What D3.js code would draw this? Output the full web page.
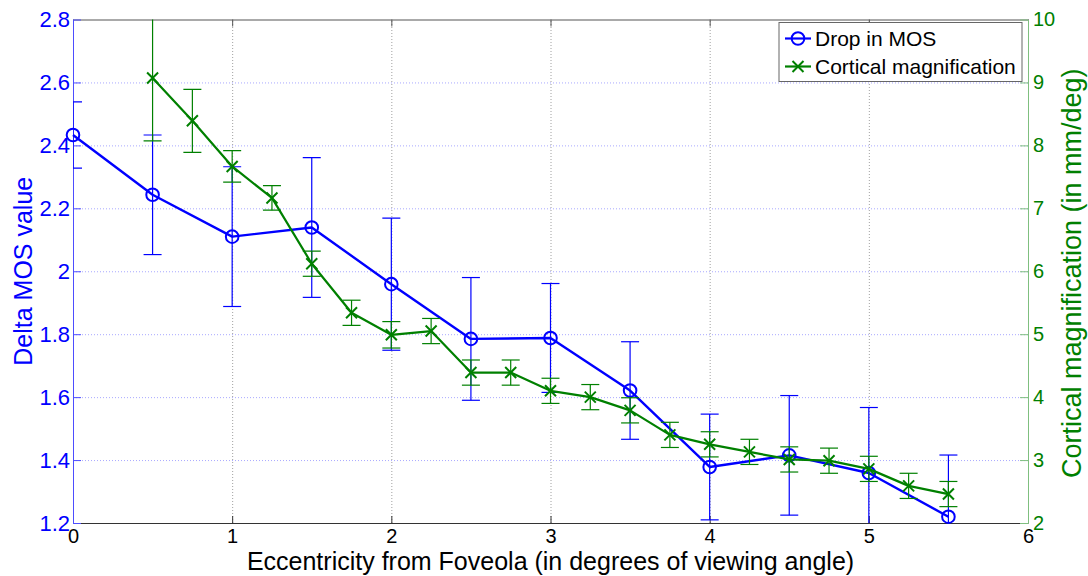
<!DOCTYPE html>
<html>
<head>
<meta charset="utf-8">
<script src="https://cdn.jsdelivr.net/npm/d3@7"></script>
<style>
  html, body { margin: 0; padding: 0; background: #fff; }
  svg { display: block; font-family: "Liberation Sans", Arial, sans-serif; }
</style>
</head>
<body>
<svg id="chart" width="1088" height="576"></svg>
<script>
// ---- data ----
const mosX = [0, 0.5, 1, 1.5, 2, 2.5, 3, 3.5, 4, 4.5, 5, 5.5];
const mosDrop = [2.433, 2.243, 2.110, 2.139, 1.959, 1.785, 1.788, 1.621, 1.378, 1.415, 1.359, 1.220];
const mosErr = [0.105, 0.19, 0.222, 0.222, 0.21, 0.195, 0.173, 0.155, 0.168, 0.19, 0.208, 0.196];

const cortX = [0.5, 0.75, 1, 1.25, 1.5, 1.75, 2, 2.25, 2.5, 2.75, 3, 3.25, 3.5, 3.75, 4, 4.25, 4.5, 4.75, 5, 5.25, 5.5];
const cortMag = [9.07, 8.39, 7.665, 7.165, 6.12, 5.34, 4.99, 5.05, 4.39, 4.39, 4.10, 4.00, 3.79, 3.40, 3.25, 3.13, 3.01, 2.99, 2.86, 2.59, 2.46];
const cortErr = [1.0, 0.5, 0.25, 0.195, 0.2, 0.2, 0.21, 0.2, 0.2, 0.2, 0.2, 0.2, 0.2, 0.2, 0.2, 0.2, 0.2, 0.2, 0.2, 0.2, 0.2];

const xTicks = [0, 1, 2, 3, 4, 5, 6];
const yLeftTicks = [1.2, 1.4, 1.6, 1.8, 2, 2.2, 2.4, 2.6, 2.8];
const yRightTicks = [2, 3, 4, 5, 6, 7, 8, 9, 10];

const seriesNames = ["Drop in MOS", "Cortical magnification"];
const xLabel = "Eccentricity from Foveola (in degrees of viewing angle)";
const yLeftLabel = "Delta MOS value";
const yRightLabel = "Cortical magnification (in mm/deg)";

// ---- layout ----
const W = 1088, H = 576;
const m = { left: 73, right: 60, top: 19.5, bottom: 53 };
const pw = W - m.left - m.right, ph = H - m.top - m.bottom;
const BLUE = "#0000ff", GREEN = "#008000";

const svg = d3.select("#chart");
const g = svg.append("g").attr("transform", `translate(${m.left},${m.top})`);

const x = d3.scaleLinear().domain([0, 6]).range([0, pw]);
const yL = d3.scaleLinear().domain([1.2, 2.8]).range([ph, 0]);
const yR = d3.scaleLinear().domain([2, 10]).range([ph, 0]);

svg.append("defs").append("clipPath").attr("id", "clip")
  .append("rect").attr("x", 0).attr("y", 0).attr("width", pw).attr("height", ph);

// ---- grid ----
const gridH = g.append("g").attr("class", "gridh")
  .call(d3.axisLeft(yL).tickValues(yLeftTicks.slice(1, -1)).tickSize(-pw).tickFormat(""));
gridH.select(".domain").remove();
gridH.selectAll("line").attr("stroke", "#a8a8ff").attr("stroke-dasharray", "1,2");

const gridV = g.append("g").attr("class", "gridv")
  .attr("transform", `translate(0,${ph})`)
  .call(d3.axisBottom(x).tickValues(xTicks.slice(1, -1)).tickSize(-ph).tickFormat(""));
gridV.select(".domain").remove();
gridV.selectAll("line").attr("stroke", "#a0a0a0").attr("stroke-dasharray", "1,2");

// ---- axes ----
function styleAxis(sel, color, fontSize) {
  sel.select(".domain").attr("stroke", color);
  sel.selectAll(".tick line").attr("stroke", color);
  sel.selectAll(".tick text").attr("fill", color).attr("font-size", fontSize)
    .attr("font-family", "Liberation Sans, Arial, sans-serif");
}

const axTop = g.append("g")
  .call(d3.axisTop(x).tickValues(xTicks).tickSizeInner(-7).tickSizeOuter(0).tickFormat(""));
styleAxis(axTop, "#555", 0);

const axBottom = g.append("g").attr("transform", `translate(0,${ph})`)
  .call(d3.axisBottom(x).tickValues(xTicks).tickSizeInner(-7).tickSizeOuter(0).tickPadding(6).tickFormat(d3.format("d")));
styleAxis(axBottom, "#333", "20px");
axBottom.selectAll(".tick text").attr("fill", "#000");

const axLeft = g.append("g")
  .call(d3.axisLeft(yL).tickValues(yLeftTicks).tickSizeInner(-8).tickSizeOuter(0).tickPadding(3)
    .tickFormat(d => d3.format("~g")(d)));
styleAxis(axLeft, "#4d4dff", "22px");
axLeft.selectAll(".tick text").attr("fill", BLUE);

const axRight = g.append("g").attr("transform", `translate(${pw},0)`)
  .call(d3.axisRight(yR).tickValues(yRightTicks).tickSizeInner(-8).tickSizeOuter(0).tickPadding(5)
    .tickFormat(d3.format("d")));
styleAxis(axRight, "#7fbf7f", "20px");
axRight.selectAll(".tick text").attr("fill", GREEN);

// ---- error bars ----
function errorBars(xs, ys, es, yScale, color, cap) {
  const eg = g.append("g").attr("clip-path", "url(#clip)");
  xs.forEach((xv, i) => {
    const cx = x(xv), y1 = yScale(ys[i] + es[i]), y2 = yScale(ys[i] - es[i]);
    eg.append("line").attr("x1", cx).attr("x2", cx).attr("y1", y1).attr("y2", y2)
      .attr("stroke", color).attr("stroke-width", 1.2);
    [y1, y2].forEach(yy => eg.append("line").attr("x1", cx - cap).attr("x2", cx + cap)
      .attr("y1", yy).attr("y2", yy).attr("stroke", color).attr("stroke-width", 1.2));
  });
}

// blue series
errorBars(mosX, mosDrop, mosErr, yL, BLUE, 9);
const blueLine = d3.line().x((d, i) => x(mosX[i])).y(d => yL(d));
g.append("path").datum(mosDrop).attr("d", blueLine).attr("fill", "none")
  .attr("stroke", BLUE).attr("stroke-width", 2.4).attr("stroke-linejoin", "round");
g.append("g").selectAll("circle").data(mosDrop).join("circle")
  .attr("cx", (d, i) => x(mosX[i])).attr("cy", d => yL(d)).attr("r", 6.3)
  .attr("fill", "none").attr("stroke", BLUE).attr("stroke-width", 2);

// green series
errorBars(cortX, cortMag, cortErr, yR, GREEN, 9);
const greenLine = d3.line().x((d, i) => x(cortX[i])).y(d => yR(d));
g.append("path").datum(cortMag).attr("d", greenLine).attr("fill", "none")
  .attr("stroke", GREEN).attr("stroke-width", 2.2).attr("stroke-linejoin", "round");
const crossPath = s => `M${-s},${-s}L${s},${s}M${-s},${s}L${s},${-s}`;
g.append("g").selectAll("path").data(cortMag).join("path")
  .attr("transform", (d, i) => `translate(${x(cortX[i])},${yR(d)})`)
  .attr("d", crossPath(5.5)).attr("stroke", GREEN).attr("stroke-width", 2).attr("fill", "none");

// ---- axis labels ----
svg.append("text").attr("x", m.left + pw / 2).attr("y", 570).attr("text-anchor", "middle")
  .attr("font-size", "25px").attr("fill", "#000").text(xLabel);
svg.append("text").attr("transform", `translate(32,${m.top + ph / 2}) rotate(-90)`)
  .attr("text-anchor", "middle").attr("font-size", "25px").attr("fill", BLUE).text(yLeftLabel);
svg.append("text").attr("transform", `translate(1081,${m.top + ph / 2 + 2}) rotate(-90)`)
  .attr("text-anchor", "middle").attr("font-size", "27px").attr("fill", GREEN).text(yRightLabel);

// ---- legend ----
const lg = svg.append("g").attr("transform", "translate(779,22.5)");
lg.append("rect").attr("width", 243).attr("height", 59).attr("fill", "#fff")
  .attr("stroke", "#666").attr("stroke-width", 1);
const items = [
  { name: seriesNames[0], color: BLUE, type: "circle", cy: 16 },
  { name: seriesNames[1], color: GREEN, type: "cross", cy: 44 }
];
items.forEach(it => {
  lg.append("line").attr("x1", 6).attr("x2", 32).attr("y1", it.cy).attr("y2", it.cy)
    .attr("stroke", it.color).attr("stroke-width", 2.2);
  if (it.type === "circle") {
    lg.append("circle").attr("cx", 19).attr("cy", it.cy).attr("r", 6.3)
      .attr("fill", "none").attr("stroke", it.color).attr("stroke-width", 2);
  } else {
    lg.append("path").attr("transform", `translate(19,${it.cy})`).attr("d", crossPath(5.5))
      .attr("stroke", it.color).attr("stroke-width", 2);
  }
  lg.append("text").attr("x", 36).attr("y", it.cy).attr("dy", "0.36em")
    .attr("font-size", "21px").attr("fill", "#000").text(it.name);
});
</script>
</body>
</html>
